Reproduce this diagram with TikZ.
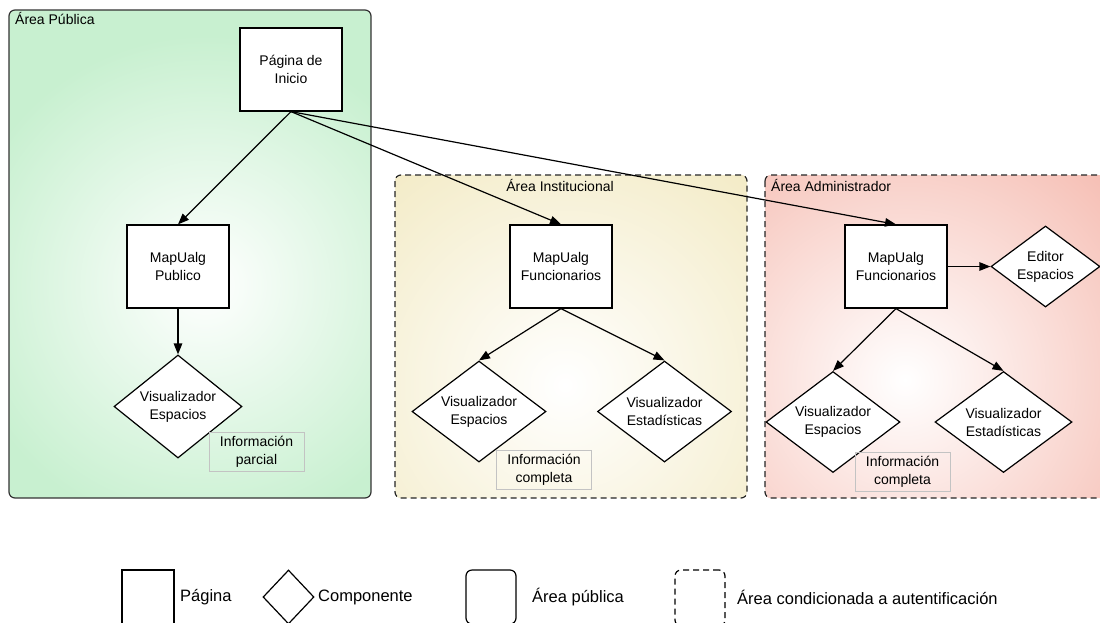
\documentclass[tikz,border=0pt]{standalone}
\usepackage{fontspec}
\setmainfont{Liberation Sans}
\usetikzlibrary{arrows.meta,shapes.geometric}

\definecolor{pubgreen}{RGB}{200,240,208}
\definecolor{instyellow}{RGB}{243,235,198}
\definecolor{admpink}{RGB}{246,192,182}
\definecolor{notegray}{RGB}{195,195,195}

\begin{document}
\begin{tikzpicture}[x=1pt,y=-1pt,
  font=\fontsize{14}{18}\selectfont,
  page/.style={draw=black,line width=1.2pt,fill=white,minimum width=102pt,
    minimum height=83pt,inner sep=0pt,align=center},
  comp/.style={diamond,draw=black,line width=1.2pt,fill=white,inner sep=0pt,
    aspect=1.33,minimum width=134pt,minimum height=101pt,align=center},
  note/.style={draw=notegray,line width=0.7pt,inner sep=0pt,minimum width=95pt,
    minimum height=39pt,align=center},
  link/.style={line width=1.2pt,-{Triangle[length=11pt,width=8.5pt]}},
  publicarea/.style={draw=black!80,line width=1.2pt,rounded corners=6pt},
  autharea/.style={draw=black!85,line width=1.2pt,dash pattern=on 6pt off 4pt,
    rounded corners=6pt},
  legendtext/.style={font=\fontsize{16.5}{20}\selectfont,anchor=west,inner sep=0pt}
]
\useasboundingbox (0,0) rectangle (1100,622);

% ---- public area (green) ----
\begin{scope}
  \clip[rounded corners=6pt] (9,10) rectangle (371,498);
  \fill[pubgreen] (9,10) rectangle (371,498);
  \shade[inner color=white,outer color=pubgreen] (205,285) circle (250pt);
\end{scope}
\draw[publicarea] (9,10) rectangle (371,498);
\node[anchor=west,inner sep=0pt] (lblPub) at (15,18) {Área Pública};

% ---- institutional area (yellow) ----
\begin{scope}
  \clip[rounded corners=6pt] (395,175) rectangle (747,498);
  \fill[instyellow] (395,175) rectangle (747,498);
  \shade[inner color=white,outer color=instyellow] (565,385) circle (280pt);
\end{scope}
\draw[autharea] (395,175) rectangle (747,498);
\node[inner sep=0pt] (lblInst) at (560,185) {Área Institucional};

% ---- administrator area (pink) ----
\begin{scope}
  \clip[rounded corners=6pt] (765,175) rectangle (1110,498);
  \fill[admpink] (765,175) rectangle (1110,498);
  \shade[inner color=white,outer color=admpink] (905,380) circle (280pt);
\end{scope}
\draw[autharea] (765,175) rectangle (1110,498);
\node[anchor=west,inner sep=0pt] (lblAdm) at (771,185) {Área Administrador};

% ---- pages ----
\node[page] (inicio) at (291,69.5) {Página de\\Inicio};
\node[page] (pub) at (178,266.5) {MapUalg\\Publico};
\node[page] (inst) at (561,266.5) {MapUalg\\Funcionarios};
\node[page] (adm) at (896,266.5) {MapUalg\\Funcionarios};

% ---- components ----
\node[comp,minimum width=128pt,minimum height=103pt,aspect=1.24] (pubVE) at (178,406.5) {Visualizador\\Espacios};
\node[comp] (instVE) at (479,411.5) {Visualizador\\Espacios};
\node[comp] (instVS) at (664.5,411.5) {Visualizador\\Estadísticas};
\node[comp] (admVE) at (833,422) {Visualizador\\Espacios};
\node[comp,minimum width=137pt] (admVS) at (1003.5,422) {Visualizador\\Estadísticas};
\node[comp,minimum width=109pt,minimum height=81pt,aspect=1.35] (editor) at (1045.5,266.5) {Editor\\Espacios};

% ---- notes ----
\node[note] (notePub) at (256.5,452) {Información\\parcial};
\node[note] (noteInst) at (544,469.5) {Información\\completa};
\node[note] (noteAdm) at (902.5,472) {Información\\completa};

% ---- links ----
\draw[link] (inicio.south) -- (pub.north);
\draw[link] (inicio.south) -- (inst.north);
\draw[link] (inicio.south) -- (adm.north);
\draw[link] (pub.south) -- (pubVE.north);
\draw[link] (inst.south) -- (instVE.north);
\draw[link] (inst.south) -- (instVS.north);
\draw[link] (adm.east) -- (editor.west);
\draw[link] (adm.south) -- (admVE.north);
\draw[link] (adm.south) -- (admVS.north);

% ---- legend (shapes run off the lower edge) ----
\node[draw=black,line width=1.2pt,minimum width=52pt,minimum height=56pt,inner sep=0pt] (lgPage) at (148,598) {};
\node[legendtext] (lgPageTxt) at (180,597) {Página};
\node[diamond,draw=black,line width=1.2pt,minimum width=51pt,minimum height=54pt,aspect=0.95,inner sep=0pt] (lgComp) at (288.5,597) {};
\node[legendtext] (lgCompTxt) at (318,597) {Componente};
\node[draw=black,line width=1.2pt,rounded corners=6pt,minimum width=50pt,minimum height=54pt,inner sep=0pt] (lgPub) at (491,597) {};
\node[legendtext] (lgPubTxt) at (532,597) {Área pública};
\node[draw=black,line width=1.2pt,dash pattern=on 6pt off 4pt,rounded corners=6pt,minimum width=50pt,minimum height=56pt,inner sep=0pt] (lgAuth) at (700,598) {};
\node[legendtext] (lgAuthTxt) at (737,597) {Área condicionada a autentificación};
\end{tikzpicture}
\end{document}
